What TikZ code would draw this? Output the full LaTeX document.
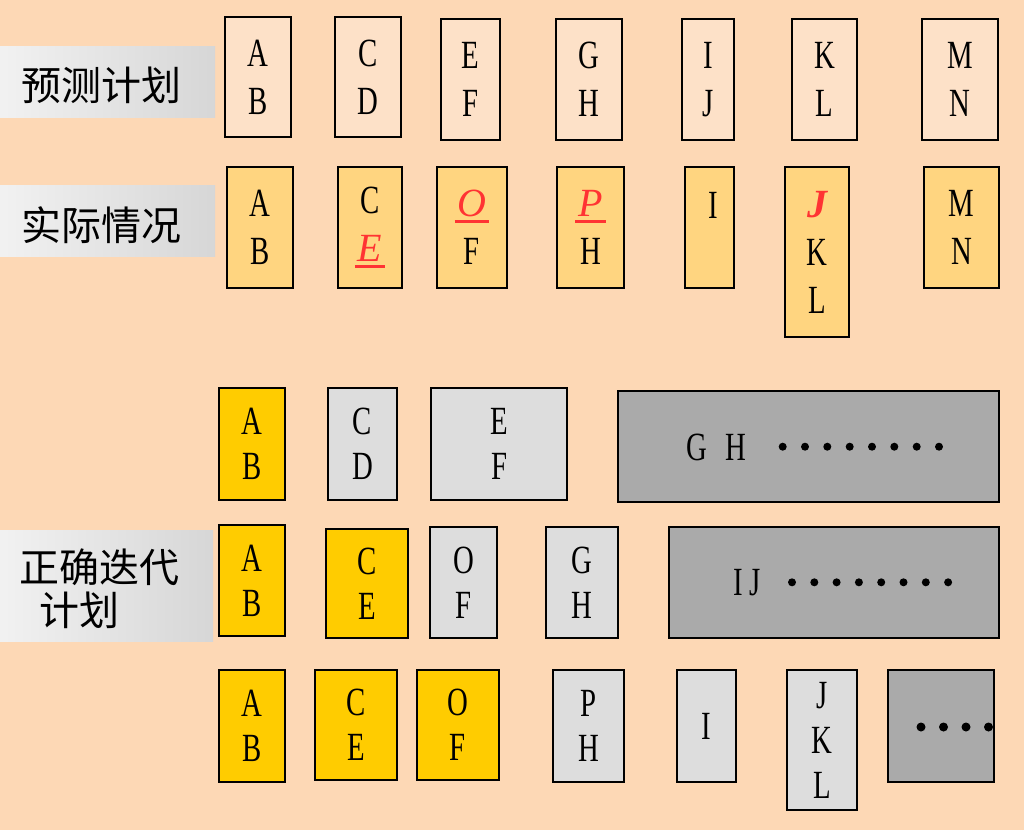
\documentclass[tikz,border=0pt]{standalone}
\usepackage{fontspec}
\setmainfont{Liberation Serif}[FakeStretch=0.72]
\newfontfamily\itf{Liberation Serif}
\newfontfamily\cjk{Noto Sans CJK SC}
\definecolor{bgc}{HTML}{FDD8B5}
\definecolor{pk}{HTML}{FDE1C8}
\definecolor{orc}{HTML}{FFD580}
\definecolor{yel}{HTML}{FFCC00}
\definecolor{lgr}{HTML}{DDDDDD}
\definecolor{dgr}{HTML}{AAAAAA}
\definecolor{redc}{HTML}{FF3333}
\newcommand\ru[1]{\textcolor{redc}{\setbox0\hbox{\itf\itshape\fontsize{40}{48}\selectfont #1}\rlap{\kern-3pt\raisebox{-6pt}{\rule{\dimexpr\wd0+6pt\relax}{3pt}}}\box0}}
\newcommand\ri[1]{\textcolor{redc}{\itf\itshape\bfseries\fontsize{40}{48}\selectfont #1}}
\tikzset{
  bx/.style={draw=black, line width=2pt, inner sep=0pt, align=center, font=\fontsize{40}{48}\selectfont},
  bxs/.style={bx, font=\fontsize{40}{45}\selectfont},
  band/.style={inner sep=0pt, left color=white!60!lgr, right color=lgr!97!black, draw=none},
  cj/.style={font=\cjk\fontsize{40}{46}\selectfont, inner sep=0pt},
  lt/.style={font=\fontsize{40}{48}\selectfont, inner sep=0pt},
  dotc/.style={circle, fill=black, inner sep=0pt, minimum size=8pt}
}
\begin{document}
\begin{tikzpicture}[x=1pt,y=-1pt]
\fill[bgc] (0,0) rectangle (1024,830);
\useasboundingbox (0,0) rectangle (1024,830);
% labels
\node[band, minimum width=215pt, minimum height=71pt] (l1) at (107.5,81.5) {};
\node[cj] (t1) at (101,85) {预测计划};
\node[band, minimum width=215pt, minimum height=71pt] (l2) at (107.5,221) {};
\node[cj] (t2) at (101,225) {实际情况};
\node[band, minimum width=213pt, minimum height=111pt] (l3) at (106.5,585.5) {};
\node[cj] (t3a) at (99,567) {正确迭代};
\node[cj] (t3b) at (79,610) {计划};
% row 1
\node[bx, fill=pk, minimum width=66pt, minimum height=120pt] (p1) at (258,77) {A\\B};
\node[bx, fill=pk, minimum width=66pt, minimum height=120pt] (p2) at (368,77) {C\\D};
\node[bx, fill=pk, minimum width=59pt, minimum height=121pt] (p3) at (470.5,79.5) {E\\F};
\node[bx, fill=pk, minimum width=66pt, minimum height=121pt] (p4) at (589,79.5) {G\\H};
\node[bx, fill=pk, minimum width=52pt, minimum height=121pt] (p5) at (708,79.5) {I\\J};
\node[bx, fill=pk, minimum width=65pt, minimum height=121pt] (p6) at (824.5,79.5) {K\\L};
\node[bx, fill=pk, minimum width=76pt, minimum height=121pt] (p7) at (960,79.5) {M\\N};
% row 2
\node[bx, fill=orc, minimum width=66pt, minimum height=121pt] (a1) at (260,227.5) {A\\B};
\node[bx, fill=orc, minimum width=64pt, minimum height=121pt] (a2) at (370,227.5) {C\\\ru{E}};
\node[bx, fill=orc, minimum width=70pt, minimum height=121pt] (a3) at (472,227.5) {\ru{O}\\F};
\node[bx, fill=orc, minimum width=67pt, minimum height=121pt] (a4) at (590.5,227.5) {\ru{P}\\H};
\node[bx, fill=orc, minimum width=49pt, minimum height=121pt] (a5) at (709.5,227.5) {};
\node[lt] (a5t) at (713,205) {I};
\node[bx, fill=orc, minimum width=64pt, minimum height=170pt] (a6) at (817,252) {\ri{J}\\K\\L};
\node[bx, fill=orc, minimum width=75pt, minimum height=121pt] (a7) at (961.5,227.5) {M\\N};
% row 3
\node[bxs, fill=yel, minimum width=66pt, minimum height=112pt] (c1) at (252,444) {A\\B};
\node[bxs, fill=lgr, minimum width=69pt, minimum height=112pt] (c2) at (362.5,444) {C\\D};
\node[bxs, fill=lgr, minimum width=136pt, minimum height=112pt] (c3) at (499,444) {E\\F};
\node[bxs, fill=dgr, minimum width=381pt, minimum height=111pt] (c4) at (808.5,446.5) {};
\node[lt] (c4g) at (697,447) {G};
\node[lt] (c4h) at (736,447) {H};
\foreach \i/\x in {1/782.7,2/805,3/827.3,4/849.7,5/872,6/894.3,7/916.7,8/939}
  \node[dotc] (cd\i) at (\x,446.7) {};
% row 4
\node[bxs, fill=yel, minimum width=66pt, minimum height=111pt] (d1) at (252,580.5) {A\\B};
\node[bxs, fill=yel, minimum width=82pt, minimum height=109pt] (d2) at (367,583.5) {C\\E};
\node[bxs, fill=lgr, minimum width=67pt, minimum height=111pt] (d3) at (463.5,582.5) {O\\F};
\node[bxs, fill=lgr, minimum width=72pt, minimum height=111pt] (d4) at (582,582.5) {G\\H};
\node[bxs, fill=dgr, minimum width=330pt, minimum height=111pt] (d5) at (834,582.5) {};
\node[lt] (d5t) at (747,583) {I\,J};
\foreach \i/\x in {1/792,2/814.3,3/836.6,4/858.9,5/881.2,6/903.5,7/925.8,8/948.1}
  \node[dotc] (dd\i) at (\x,582.3) {};
% row 5
\node[bxs, fill=yel, minimum width=66pt, minimum height=112pt] (e1) at (252,726) {A\\B};
\node[bxs, fill=yel, minimum width=82pt, minimum height=110pt] (e2) at (356,725) {C\\E};
\node[bxs, fill=yel, minimum width=82pt, minimum height=110pt] (e3) at (458,725) {O\\F};
\node[bxs, fill=lgr, minimum width=71pt, minimum height=112pt] (e4) at (588.5,726) {P\\H};
\node[bxs, fill=lgr, minimum width=59pt, minimum height=112pt] (e5) at (706.5,726) {I};
\node[bxs, fill=lgr, minimum width=70pt, minimum height=140pt] (e6) at (822,740) {J\\K\\L};
\node[bxs, fill=dgr, minimum width=106pt, minimum height=112pt] (e7) at (941,726) {};
\foreach \i/\x in {1/921,2/943.5,3/966,4/988.5}
  \node[dotc, minimum size=9pt] (ed\i) at (\x,727) {};
\end{tikzpicture}
\end{document}
